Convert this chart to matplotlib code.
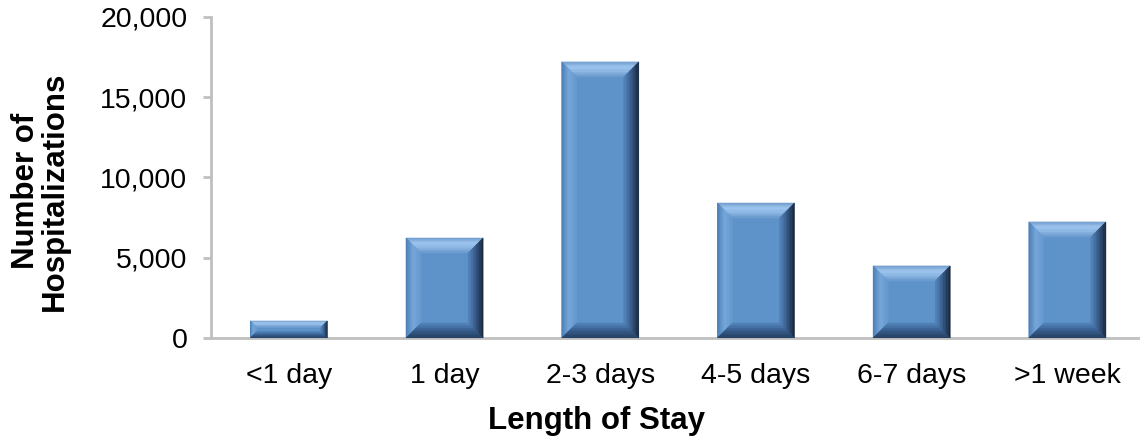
import matplotlib
matplotlib.use("Agg")
import matplotlib.pyplot as plt
import numpy as np
from matplotlib.patches import Polygon
from matplotlib.colors import to_rgb
from matplotlib.ticker import FuncFormatter

plt.rcParams['font.family'] = ['Liberation Sans', 'DejaVu Sans']

categories = ['<1 day', '1 day', '2-3 days', '4-5 days', '6-7 days', '>1 week']
hospitalizations = [1060, 6230, 17200, 8410, 4490, 7230]

W, H = 1140, 446
left, top, bottom = 211, 17, 338
cat_px = 155.7
ax_w = 6 * cat_px
ax_h = bottom - top

fig = plt.figure(figsize=(W / 100, H / 100), dpi=100)
ax = fig.add_axes([left / W, 1 - bottom / H, ax_w / W, ax_h / H])

x = np.arange(len(categories))
bars = ax.bar(x, hospitalizations, width=0.495, color='#5E93CA', zorder=2)

ax.set_xlim(-0.5, len(categories) - 0.5)
ax.set_ylim(0, 20000)
ax.set_yticks(range(0, 20001, 5000))
ax.yaxis.set_major_formatter(FuncFormatter(lambda v, p: f'{int(v):,}'))
ax.set_xticks(x)
ax.set_xticklabels(categories)

for s in ['top', 'right']:
    ax.spines[s].set_visible(False)
for s in ['left', 'bottom']:
    ax.spines[s].set_color('#C0C0C0')
    ax.spines[s].set_linewidth(2)
ax.tick_params(axis='y', length=6, width=2, color='#C0C0C0', labelsize=20.5, pad=11)
ax.tick_params(axis='x', length=0, labelsize=20.5, pad=18)

ax.set_ylabel('Number of\nHospitalizations', fontsize=22.5, fontweight='bold',
              linespacing=0.95)
ax.yaxis.set_label_coords((70 - left) / ax_w, (bottom - 191) / ax_h)
ax.set_xlabel('Length of Stay', fontsize=22.5, fontweight='bold')
ax.xaxis.set_label_coords((596 - left) / ax_w, (bottom - 406) / ax_h)


def blend(stops, t):
    pos = np.linspace(0, 1, len(stops))
    rgb = np.array([to_rgb(c) for c in stops])
    return tuple(np.interp(t, pos, rgb[:, i]) for i in range(3))


def face(p0, p1, q0, q1, stops, n=10):
    p0, p1, q0, q1 = map(np.array, (p0, p1, q0, q1))
    for k in range(n):
        a, b = k / n, (k + 1) / n
        pts = [p0 + (q0 - p0) * a, p1 + (q1 - p1) * a,
               p1 + (q1 - p1) * b, p0 + (q0 - p0) * b]
        c = blend(stops, (a + b) / 2)
        ax.add_patch(Polygon(pts, closed=True, facecolor=c, edgecolor=c,
                             lw=0.4, zorder=3))


# bevel effect, edge size in pixels
px_x = len(categories) / ax_w
px_y = 20000 / ax_h
for b in bars:
    x0 = b.get_x()
    x1 = x0 + b.get_width()
    y0 = 0
    y1 = b.get_height()
    bp = min(15, (y1 / px_y) / 2.6)
    bx = bp * px_x
    by = bp * px_y
    # top
    face((x0, y1), (x1, y1), (x0 + bx, y1 - by), (x1 - bx, y1 - by),
         ['#6F9BCB', '#9EC6EE', '#8DB8E4', '#6898CC'])
    # left
    face((x0, y0), (x0, y1), (x0 + bx, y0 + by), (x0 + bx, y1 - by),
         ['#4A7DB5', '#78A8DB', '#6598CE'])
    # right
    face((x1, y0), (x1, y1), (x1 - bx, y0 + by), (x1 - bx, y1 - by),
         ['#162438', '#2A4568', '#40689A', '#5585BC'])
    # bottom
    face((x0, y0), (x1, y0), (x0 + bx, y0 + by), (x1 - bx, y0 + by),
         ['#243D5E', '#365B8A', '#5284BB'])

fig.savefig('out.png', dpi=100)
